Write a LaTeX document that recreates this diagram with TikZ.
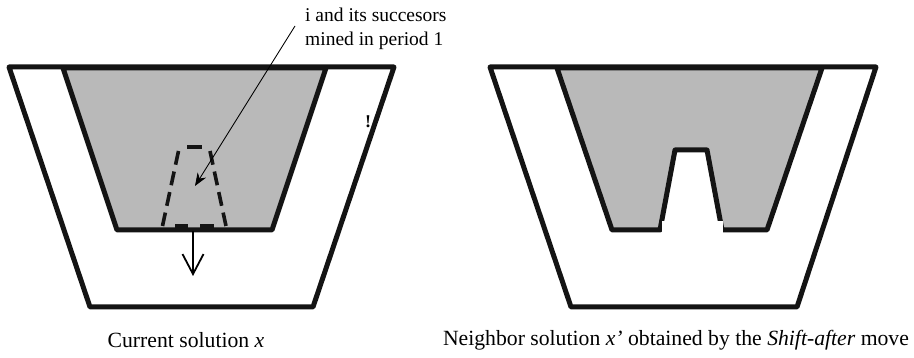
\documentclass[tikz,border=0pt]{standalone}
\usepackage{fontspec}
\setmainfont{Liberation Serif}
\usetikzlibrary{arrows.meta}
\definecolor{pitgray}{RGB}{185,185,185}
\tikzset{
  thick line/.style={line width=5pt, line join=round, line cap=round, black!92},
  pitfill/.style={fill=pitgray},
  dashbox/.style={line width=3.6pt, dash pattern=on 14pt off 7pt, black!92},
  caption/.style={font=\fontsize{21.7}{26}\selectfont, inner sep=0pt},
  label/.style={font=\fontsize{19.5}{23.5}\selectfont, align=left, inner sep=0pt}
}
\begin{document}
\begin{tikzpicture}[x=1pt,y=-1pt]
\useasboundingbox (0,0) rectangle (914,358);
% ---------- left figure ----------
\draw[thick line, fill=white] (9,67) -- (394,67) -- (313,307) -- (90,307) -- cycle;
\draw[thick line, pitfill] (63,68) -- (326,68) -- (272,230) -- (117,230) -- cycle;
\draw[dashbox, dash pattern=on 15pt off 0pt] (187,147) -- (202,147);
\draw[dashbox, dash phase=0pt] (178.5,151) -- (162.5,226);
\draw[dashbox, dash phase=0pt] (210,151) -- (226,226);
\draw[line width=3.6pt, black!92] (175,226) -- (188,226) (200,226) -- (214,226);
\coordinate (dropstart) at (193,231);
\coordinate (dropend) at (193,276);
\draw[line width=1.8pt, -{Straight Barb[length=20pt,width=21pt]}] (dropstart) -- (dropend);
\node[label, anchor=base west] (lab) at (305,45.5) {i and its succesors\\mined in period 1};
\coordinate (leadstart) at (295,26);
\coordinate (leadend) at (195,186);
\draw[line width=0.9pt, -{Stealth[length=13pt,width=10pt]}] (leadstart) -- (leadend);
\node[font=\bfseries\fontsize{18}{18}\selectfont, inner sep=0pt] (bang) at (368,122) {!};
\node[caption] (capL) at (186,340) {Current solution \textit{x}};
% ---------- right figure ----------
\draw[thick line, fill=white] (490,67) -- (876,67) -- (797,307) -- (571,307) -- cycle;
\draw[thick line, pitfill] (557,68) -- (822,68) -- (767,230) -- (722,230) -- (707,150) -- (675,150) -- (660,230) -- (612,230) -- cycle;
\fill[white] (662,221) rectangle (723,236);
\node[caption] (capR) at (676,340) {Neighbor solution \textit{x’} obtained by the \textit{Shift-after} move};
\end{tikzpicture}
\end{document}
